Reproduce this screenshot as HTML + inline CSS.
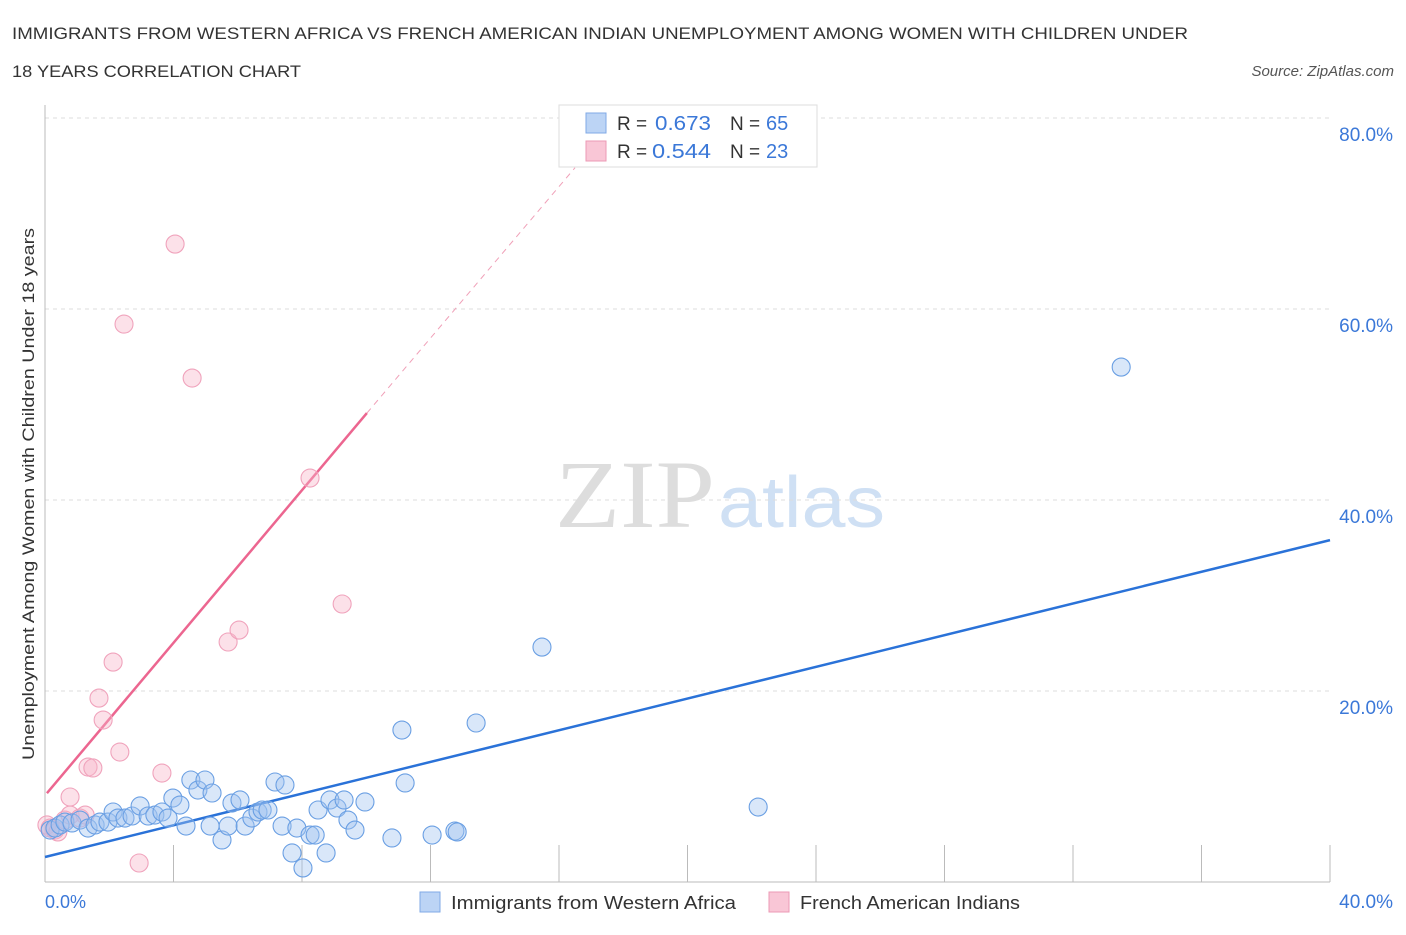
<!DOCTYPE html>
<html><head><meta charset="utf-8"><style>
body{margin:0;background:#fff;font-family:"Liberation Sans",sans-serif;}
svg text{font-family:"Liberation Sans",sans-serif;}
</style></head><body>
<svg id="chart" width="1406" height="930" viewBox="0 0 1406 930" xmlns="http://www.w3.org/2000/svg">
<text x="12" y="39" font-size="17" fill="#333" textLength="1176" lengthAdjust="spacingAndGlyphs">IMMIGRANTS FROM WESTERN AFRICA VS FRENCH AMERICAN INDIAN UNEMPLOYMENT AMONG WOMEN WITH CHILDREN UNDER</text>
<text x="12" y="77" font-size="17" fill="#333" textLength="289" lengthAdjust="spacingAndGlyphs">18 YEARS CORRELATION CHART</text>
<text x="1394" y="76" font-size="15" fill="#555" font-style="italic" text-anchor="end">Source: ZipAtlas.com</text>
<text x="555" y="527" font-size="96" fill="#ddd" textLength="160" lengthAdjust="spacingAndGlyphs" style="font-family:'Liberation Serif',serif">ZIP</text>
<text x="718" y="527" font-size="72" fill="#cfe0f4" textLength="167" lengthAdjust="spacingAndGlyphs">atlas</text>
<g id="grid"></g>
<g id="axes"></g>
<g id="lines"></g>
<g id="pts"></g>
<text transform="translate(34,494) rotate(-90)" font-size="17" fill="#333" text-anchor="middle" textLength="532" lengthAdjust="spacingAndGlyphs">Unemployment Among Women with Children Under 18 years</text>
<text x="45" y="908" font-size="18" fill="#3b78d8">0.0%</text>
<text x="1393" y="908" font-size="19" fill="#3b78d8" text-anchor="end">40.0%</text>
<g>
<rect x="559" y="105" width="258" height="62" fill="#fff" stroke="#ddd"/>
<rect x="586" y="113" width="20" height="20" fill="#bcd4f5" stroke="#80aae6"/>
<rect x="586" y="141" width="20" height="20" fill="#f9c6d6" stroke="#ec9ab5"/>
<text x="617" y="130" font-size="19" fill="#333">R = </text><text x="655" y="130" font-size="20" fill="#3b78d8" textLength="56" lengthAdjust="spacingAndGlyphs">0.673</text>
<text x="730" y="130" font-size="19" fill="#333">N = </text><text x="766" y="130" font-size="20" fill="#3b78d8">65</text>
<text x="617" y="158" font-size="19" fill="#333">R = </text><text x="652" y="158" font-size="20" fill="#3b78d8" textLength="59" lengthAdjust="spacingAndGlyphs">0.544</text>
<text x="730" y="158" font-size="19" fill="#333">N = </text><text x="766" y="158" font-size="20" fill="#3b78d8">23</text>
</g>
<g>
<rect x="420" y="892" width="20" height="20" fill="#bcd4f5" stroke="#80aae6"/>
<text x="451" y="909" font-size="18" fill="#333" textLength="285" lengthAdjust="spacingAndGlyphs">Immigrants from Western Africa</text>
<rect x="769" y="892" width="20" height="20" fill="#f9c6d6" stroke="#ec9ab5"/>
<text x="800" y="909" font-size="18" fill="#333" textLength="220" lengthAdjust="spacingAndGlyphs">French American Indians</text>
</g>
</svg>
<script>
const blueX=[0.16,0.31,0.47,0.62,0.84,1.09,1.34,1.56,1.71,1.96,2.12,2.27,2.49,2.71,2.96,3.21,3.42,3.64,3.83,3.98,4.20,4.39,4.54,4.76,4.98,5.20,5.14,5.51,5.70,5.82,6.07,6.23,6.44,6.63,6.76,6.94,7.16,7.38,7.47,7.69,7.84,8.03,8.25,8.41,8.50,8.75,8.87,9.09,9.31,9.43,9.65,9.96,10.80,11.11,11.21,12.05,12.76,12.83,13.42,15.47,22.20,33.50];
const blueY=[5.44,5.65,5.97,6.28,6.18,6.49,5.65,5.97,6.28,6.28,7.33,6.70,6.70,6.91,7.96,6.91,7.01,7.33,6.70,8.79,8.06,5.86,10.68,9.63,10.68,9.32,5.86,4.40,5.86,8.27,8.59,5.86,6.70,7.33,7.54,7.54,10.47,5.86,10.16,3.04,5.65,1.47,4.92,4.92,7.54,3.04,8.59,7.75,8.59,6.49,5.44,8.38,4.61,15.91,10.37,4.92,5.34,5.24,16.65,24.60,7.85,53.92];
const pinkX=[0.06,0.16,0.31,0.40,0.62,0.78,1.09,1.25,0.78,1.34,1.49,1.68,1.81,2.12,2.33,2.46,2.93,3.64,4.05,4.58,5.70,6.04,8.25,9.25];
const pinkY=[5.97,5.65,5.44,5.24,6.49,7.01,6.70,7.01,8.90,12.04,11.94,19.26,16.96,23.03,13.61,58.42,1.99,11.41,66.80,52.77,25.13,26.38,42.30,29.11];
const blueLine=[0,2.62,40,35.8];
const pinkLine=[0.06,9.3,10.02,49.1,16.5,74.8];
const yTicks=[20,40,60,80];
const xTicks=[4,8,12,16,20,24,28,32,36,40];

const NS="http://www.w3.org/2000/svg";
const sx=v=>45+v/40*1285, sy=v=>882-v*9.55;
function mk(t,a,p){const e=document.createElementNS(NS,t);for(const k in a)e.setAttribute(k,a[k]);document.getElementById(p).appendChild(e);return e;}
yTicks.forEach(t=>{
 const g=mk('line',{x1:45,x2:1330,y1:sy(t),y2:sy(t),stroke:'#ddd','stroke-dasharray':'4,4'},'grid');
 
 
 const l=mk('text',{x:1393,y:sy(t)+23,'font-size':19,fill:'#3b78d8','text-anchor':'end'},'grid');
 l.textContent=t.toFixed(1)+'%';
 
 
});
const ya=mk('line',{x1:45,x2:45,y1:105,y2:882,stroke:'#bbb'},'axes');


const xa=mk('line',{x1:45,x2:1330,y1:882,y2:882,stroke:'#bbb'},'axes');


xTicks.forEach(t=>{
 const k=mk('line',{x1:sx(t),x2:sx(t),y1:845,y2:882,stroke:'#bbb'},'axes');
 
 
});
function pts(X,Y,fill,stroke,name){X.forEach((x,i)=>{
 const c=mk('circle',{cx:sx(x),cy:sy(Y[i]),r:9,fill:fill,stroke:stroke,'stroke-width':1.1},'pts');
 
 
});}
pts(pinkX,pinkY,'rgba(248,180,200,0.4)','#f0a3bc','pink-point');
pts(blueX,blueY,'rgba(160,196,240,0.4)','#6a9fe3','blue-point');
const bl=mk('line',{x1:sx(blueLine[0]),y1:sy(blueLine[1]),x2:sx(blueLine[2]),y2:sy(blueLine[3]),stroke:'#2a72d8','stroke-width':2.5},'lines');


const pl=mk('line',{x1:sx(pinkLine[0]),y1:sy(pinkLine[1]),x2:sx(pinkLine[2]),y2:sy(pinkLine[3]),stroke:'#ec6690','stroke-width':2.5},'lines');


const pd=mk('line',{x1:sx(pinkLine[2]),y1:sy(pinkLine[3]),x2:sx(pinkLine[4]),y2:sy(pinkLine[5]),stroke:'#f0a0b8','stroke-width':1,'stroke-dasharray':'6,5'},'lines');


</script>
</body></html>
